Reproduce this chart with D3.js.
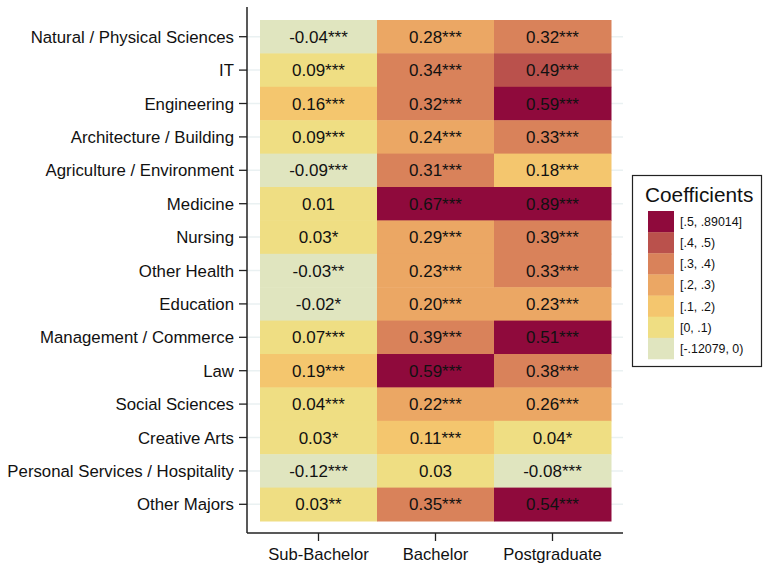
<!DOCTYPE html>
<html>
<head>
<meta charset="utf-8">
<script src="https://cdn.jsdelivr.net/npm/d3@7"></script>
<style>
  html, body { margin: 0; padding: 0; background: #fff; }
  svg { display: block; font-family: "Liberation Sans", Arial, Helvetica, sans-serif; }
</style>
</head>
<body>
<svg id="chart" width="763" height="563"></svg>
<script>
// Fields of study (rows, top to bottom)
const majors = [
  "Natural / Physical Sciences", "IT", "Engineering", "Architecture / Building",
  "Agriculture / Environment", "Medicine", "Nursing", "Other Health", "Education",
  "Management / Commerce", "Law", "Social Sciences", "Creative Arts",
  "Personal Services / Hospitality", "Other Majors"
];
// Qualification levels (columns)
const levels = ["Sub-Bachelor", "Bachelor", "Postgraduate"];

// Coefficients and significance stars per level
const subBachelor = [-0.04, 0.09, 0.16, 0.09, -0.09, 0.01, 0.03, -0.03, -0.02, 0.07, 0.19, 0.04, 0.03, -0.12, 0.03];
const subBachelorStars = ["***", "***", "***", "***", "***", "", "*", "**", "*", "***", "***", "***", "*", "***", "**"];
const bachelor = [0.28, 0.34, 0.32, 0.24, 0.31, 0.67, 0.29, 0.23, 0.20, 0.39, 0.59, 0.22, 0.11, 0.03, 0.35];
const bachelorStars = ["***", "***", "***", "***", "***", "***", "***", "***", "***", "***", "***", "***", "***", "", "***"];
const postgraduate = [0.32, 0.49, 0.59, 0.33, 0.18, 0.89, 0.39, 0.33, 0.23, 0.51, 0.38, 0.26, 0.04, -0.08, 0.54];
const postgraduateStars = ["***", "***", "***", "***", "***", "***", "***", "***", "***", "***", "***", "***", "*", "***", "***"];

// Colour bins
const binBreaks = [0, 0.1, 0.2, 0.3, 0.4, 0.5];
const binColors = ["#E0E5BF", "#EFDE83", "#F4C66E", "#EBA764", "#D9825A", "#BA514C", "#8F0A3C"];
const binLabels = ["[-.12079, 0)", "[0, .1)", "[.1, .2)", "[.2, .3)", "[.3, .4)", "[.4, .5)", "[.5, .89014]"];

const columns = [
  { values: subBachelor, stars: subBachelorStars },
  { values: bachelor, stars: bachelorStars },
  { values: postgraduate, stars: postgraduateStars }
];
const cells = [];
columns.forEach((col, ci) => {
  col.values.forEach((v, ri) => {
    cells.push({ level: levels[ci], major: majors[ri], value: v, stars: col.stars[ri] });
  });
});

const svg = d3.select("#chart");

// Plot frame
const plot = { left: 247, right: 623, top: 7, bottom: 533 };

const x = d3.scaleBand().domain(levels).range([260, 611]).padding(0);
const y = d3.scaleBand().domain(majors).range([20, 521]).padding(0);
const color = d3.scaleThreshold().domain(binBreaks).range(binColors);
// plain hyphen for negatives
const fmt = d3.formatLocale({ decimal: ".", thousands: ",", grouping: [3], currency: ["", ""], minus: "-" }).format(".2f");

// Horizontal gridlines at each row
svg.append("g")
  .selectAll("line")
  .data(majors)
  .join("line")
  .attr("x1", plot.left)
  .attr("x2", plot.right)
  .attr("y1", d => y(d) + y.bandwidth() / 2)
  .attr("y2", d => y(d) + y.bandwidth() / 2)
  .attr("stroke", "#EAF1F2")
  .attr("stroke-width", 1.5);

// Heat cells
svg.append("g")
  .selectAll("rect")
  .data(cells)
  .join("rect")
  .attr("x", d => x(d.level))
  .attr("y", d => y(d.major))
  .attr("width", x.bandwidth() + 0.5)
  .attr("height", y.bandwidth() + 0.5)
  .attr("fill", d => color(d.value));

// Cell labels
svg.append("g")
  .selectAll("text")
  .data(cells)
  .join("text")
  .attr("x", d => x(d.level) + x.bandwidth() / 2)
  .attr("y", d => y(d.major) + y.bandwidth() / 2)
  .attr("dy", "0.36em")
  .attr("text-anchor", "middle")
  .attr("font-size", 17)
  .attr("fill", "#111")
  .text(d => fmt(d.value) + d.stars);

// Y axis
const yAxis = svg.append("g")
  .attr("transform", `translate(${plot.left},0)`);
yAxis.append("line")
  .attr("x1", 0).attr("x2", 0)
  .attr("y1", plot.top).attr("y2", plot.bottom)
  .attr("stroke", "#222").attr("stroke-width", 1.5);
const yTicks = yAxis.selectAll("g.tick")
  .data(majors)
  .join("g")
  .attr("class", "tick")
  .attr("transform", d => `translate(0,${y(d) + y.bandwidth() / 2})`);
yTicks.append("line")
  .attr("x1", -8).attr("x2", 0)
  .attr("stroke", "#222").attr("stroke-width", 1.3);
yTicks.append("text")
  .attr("x", -13)
  .attr("dy", "0.36em")
  .attr("text-anchor", "end")
  .attr("font-size", 16.8)
  .attr("fill", "#111")
  .text(d => d);

// X axis
const xAxis = svg.append("g")
  .attr("transform", `translate(0,${plot.bottom})`);
xAxis.append("line")
  .attr("x1", plot.left).attr("x2", plot.right)
  .attr("stroke", "#222").attr("stroke-width", 1.5);
const xTicks = xAxis.selectAll("g.tick")
  .data(levels)
  .join("g")
  .attr("class", "tick")
  .attr("transform", d => `translate(${x(d) + x.bandwidth() / 2},0)`);
xTicks.append("line")
  .attr("y1", 0).attr("y2", 8)
  .attr("stroke", "#222").attr("stroke-width", 1.3);
xTicks.append("text")
  .attr("y", 27)
  .attr("text-anchor", "middle")
  .attr("font-size", 16.6)
  .attr("fill", "#111")
  .text(d => d);

// Legend
const legend = svg.append("g");
legend.append("rect")
  .attr("x", 632.5).attr("y", 175.5)
  .attr("width", 129).attr("height", 191)
  .attr("fill", "#fff")
  .attr("stroke", "#222").attr("stroke-width", 1.2);
legend.append("text")
  .attr("x", 645).attr("y", 202)
  .attr("font-size", 20.8)
  .attr("fill", "#111")
  .text("Coefficients");

const legendItems = binColors.map((c, i) => ({ color: c, label: binLabels[i] })).reverse();
const ly = d3.scaleBand().domain(d3.range(legendItems.length)).range([211, 359]).padding(0);
const li = legend.selectAll("g.item")
  .data(legendItems)
  .join("g")
  .attr("class", "item")
  .attr("transform", (d, i) => `translate(648,${ly(i)})`);
li.append("rect")
  .attr("width", 26)
  .attr("height", ly.bandwidth() + 0.3)
  .attr("fill", d => d.color);
li.append("text")
  .attr("x", 32)
  .attr("y", ly.bandwidth() / 2)
  .attr("dy", "0.36em")
  .attr("font-size", 12.4)
  .attr("fill", "#111")
  .text(d => d.label);
</script>
</body>
</html>
